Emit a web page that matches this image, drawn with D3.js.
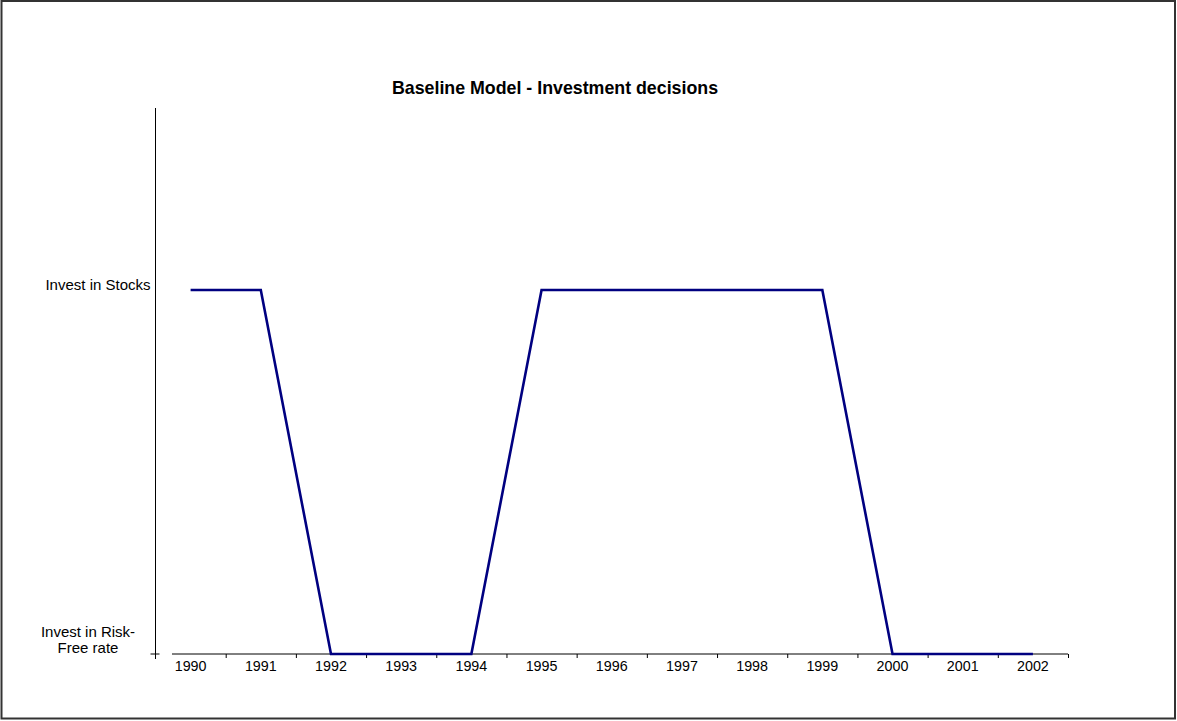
<!DOCTYPE html>
<html>
<head>
<meta charset="utf-8">
<script src="https://cdn.jsdelivr.net/npm/d3@7"></script>
<style>
  body { margin: 0; background: #fff; }
  svg { display: block; font-family: "Liberation Sans", Arial, sans-serif; }
</style>
</head>
<body>
<div id="chart"></div>
<script>
// chart data
var years = ["1990", "1991", "1992", "1993", "1994", "1995", "1996",
             "1997", "1998", "1999", "2000", "2001", "2002"];
var decisions = [1, 1, 0, 0, 0, 1, 1, 1, 1, 1, 0, 0, 0];
var yLabels = [
  {value: 1, lines: ["Invest in Stocks"]},
  {value: 0, lines: ["Invest in Risk-", "Free rate"]}
];
var title = "Baseline Model - Investment decisions";

var W = 1177, H = 721;
var svg = d3.select("#chart").append("svg")
    .attr("width", W)
    .attr("height", H);

// outer frame
svg.append("rect")
    .attr("x", 1.5).attr("y", 1)
    .attr("width", 1173.5).attr("height", 717.5)
    .attr("fill", "#fff")
    .attr("stroke", "#333")
    .attr("stroke-width", 2);

// plot area
var plot = {left: 155.5, right: 1068, top: 108, bottom: 654};
var x = d3.scaleBand().domain(years).range([plot.left, plot.right]);
var xb = d3.scaleLinear().domain([0, years.length]).range([plot.left, plot.right]);
var y = d3.scaleLinear().domain([0, 1.5]).range([plot.bottom, plot.top]);

// title
svg.append("text")
    .attr("x", 555).attr("y", 94)
    .attr("text-anchor", "middle")
    .attr("font-weight", "bold")
    .attr("font-size", "17.8px")
    .text(title);

// y axis
svg.append("line")
    .attr("x1", plot.left).attr("x2", plot.left)
    .attr("y1", y(1.5)).attr("y2", y(0) + 5)
    .attr("stroke", "#000");
svg.append("line")
    .attr("x1", plot.left - 5).attr("x2", plot.left + 4)
    .attr("y1", y(0)).attr("y2", y(0))
    .attr("stroke", "#000");

// y labels
svg.append("text")
    .attr("x", plot.left - 5).attr("y", y(yLabels[0].value))
    .attr("text-anchor", "end")
    .attr("font-size", "15px")
    .text(yLabels[0].lines[0]);
var rf = svg.append("text")
    .attr("text-anchor", "middle")
    .attr("font-size", "15px");
yLabels[1].lines.forEach(function(l, i) {
  rf.append("tspan")
    .attr("x", 88)
    .attr("y", y(yLabels[1].value) - 17 + i * 16)
    .text(l);
});

// x axis (line starts a little right of the y axis, as in the original)
svg.append("line")
    .attr("x1", xb(0.235)).attr("x2", plot.right)
    .attr("y1", plot.bottom).attr("y2", plot.bottom)
    .attr("stroke", "#000");
var tickG = svg.append("g")
    .attr("transform", "translate(0," + plot.bottom + ")")
    .call(d3.axisBottom(xb)
      .tickValues(d3.range(1, years.length + 1))
      .tickSize(4)
      .tickFormat(""));
tickG.select(".domain").remove();
tickG.selectAll("line").attr("stroke", "#000");

svg.append("g")
  .selectAll("text")
  .data(years)
  .enter().append("text")
    .attr("x", function(d) { return x(d) + x.bandwidth() / 2; })
    .attr("y", plot.bottom + 17)
    .attr("text-anchor", "middle")
    .attr("font-size", "14.3px")
    .text(function(d) { return d; });

// the line
svg.append("path")
    .datum(decisions)
    .attr("fill", "none")
    .attr("stroke", "#000080")
    .attr("stroke-width", 2.6)
    .attr("stroke-linejoin", "miter")
    .attr("d", d3.line()
      .x(function(d, i) { return x(years[i]) + x.bandwidth() / 2; })
      .y(function(d) { return y(d); }));
</script>
</body>
</html>
